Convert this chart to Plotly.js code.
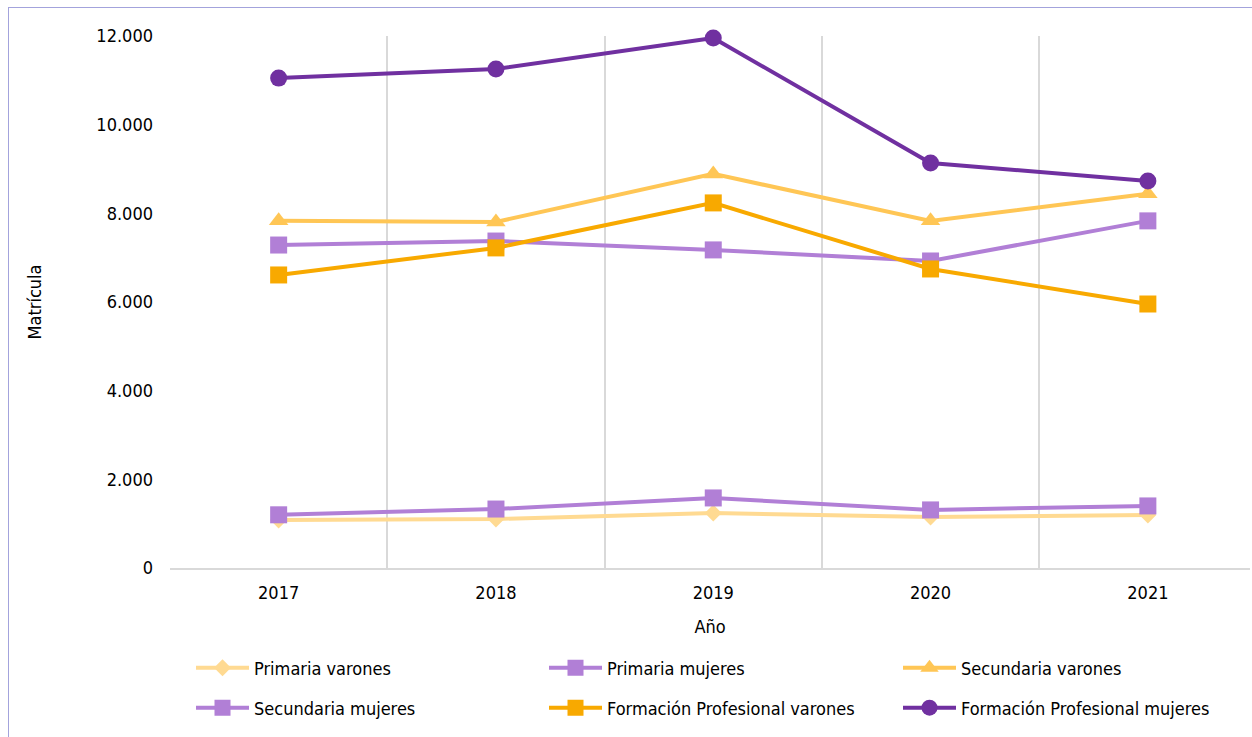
<!DOCTYPE html>
<html>
<head>
<meta charset="utf-8">
<script src="https://cdn.plot.ly/plotly-3.0.1.min.js"></script>
<style>
html,body{margin:0;padding:0;background:#fff;overflow:hidden;}
#frame{position:absolute;left:8px;top:7px;width:1260px;height:760px;border:1.5px solid #a3a3dc;box-sizing:border-box;pointer-events:none;}
#chart{position:absolute;left:0;top:0;width:1252px;height:737px;}
</style>
</head>
<body>
<div id="chart"></div>
<div id="frame"></div>
<script>
const years = ["2017", "2018", "2019", "2020", "2021"];
const primariaVarones = [1080, 1105, 1240, 1150, 1195];
const primariaMujeres = [1200, 1330, 1580, 1310, 1400];
const secundariaVarones = [7830, 7805, 8890, 7830, 8440];
const secundariaMujeres = [7285, 7375, 7175, 6925, 7830];
const fpVarones = [6610, 7220, 8235, 6745, 5955];
const fpMujeres = [11050, 11255, 11955, 9135, 8730];
const yTicks = [0, 2000, 4000, 6000, 8000, 10000, 12000];

const FONT = "'Liberation Sans Narrow', 'Arial Narrow', 'DejaVu Sans Condensed', sans-serif";

function tr(name, y, color, symbol, size, legend) {
  return {
    type: 'scatter', mode: 'lines+markers', name: name, x: years, y: y,
    line: {color: color, width: 4},
    marker: {color: color, symbol: symbol, size: size},
    legend: legend, cliponaxis: false
  };
}

const data = [
  tr('Primaria varones', primariaVarones, '#FFDA92', 'diamond', 13, 'legend'),
  tr('Primaria mujeres', primariaMujeres, '#B17FD6', 'square', 17, 'legend2'),
  tr('Secundaria varones', secundariaVarones, '#FFC655', 'triangle-up', 17, 'legend3'),
  tr('Secundaria mujeres', secundariaMujeres, '#B17FD6', 'square', 17, 'legend4'),
  tr('Formación Profesional varones', fpVarones, '#F8A900', 'square', 17, 'legend5'),
  tr('Formación Profesional mujeres', fpMujeres, '#7030A0', 'circle', 17, 'legend6')
];

const PLOT_L = 170, PLOT_W = 1080, PLOT_B = 568, PLOT_H = 532;
function lg(px, py) {
  return {
    orientation: 'h', xanchor: 'left', yanchor: 'middle',
    x: (px - PLOT_L) / PLOT_W, y: (PLOT_B - py) / PLOT_H,
    itemwidth: 53,
    font: {family: FONT, size: 18, color: '#000'}, bgcolor: 'rgba(0,0,0,0)'
  };
}

const layout = {
  width: 1252, height: 737,
  margin: {l: 170, r: 2, t: 36, b: 169, autoexpand: false},
  paper_bgcolor: '#fff', plot_bgcolor: '#fff',
  separators: ',.',
  font: {family: FONT, size: 18, color: '#000'},
  showlegend: true,
  xaxis: {
    type: 'category', range: [-0.5, 4.47], tickson: 'boundaries',
    showgrid: true, gridcolor: '#d9d9d9', gridwidth: 2,
    showline: true, linecolor: '#d9d9d9', linewidth: 2,
    ticks: '', ticklabelstandoff: 7, zeroline: false,
    title: {text: 'Año', font: {family: FONT, size: 18}, standoff: 19},
    fixedrange: true
  },
  yaxis: {
    range: [0, 12000], tickvals: yTicks, tickformat: ',d',
    showgrid: false, zeroline: false, showline: false, ticks: '',
    ticklabelstandoff: 16,
    title: {text: 'Matrícula', font: {family: FONT, size: 18}, standoff: 50},
    fixedrange: true
  },
  legend: lg(191, 668),
  legend2: lg(544, 668),
  legend3: lg(898, 668),
  legend4: lg(191, 708),
  legend5: lg(544, 708),
  legend6: lg(898, 708)
};

Plotly.newPlot('chart', data, layout, {displayModeBar: false, staticPlot: true});
</script>
</body>
</html>
